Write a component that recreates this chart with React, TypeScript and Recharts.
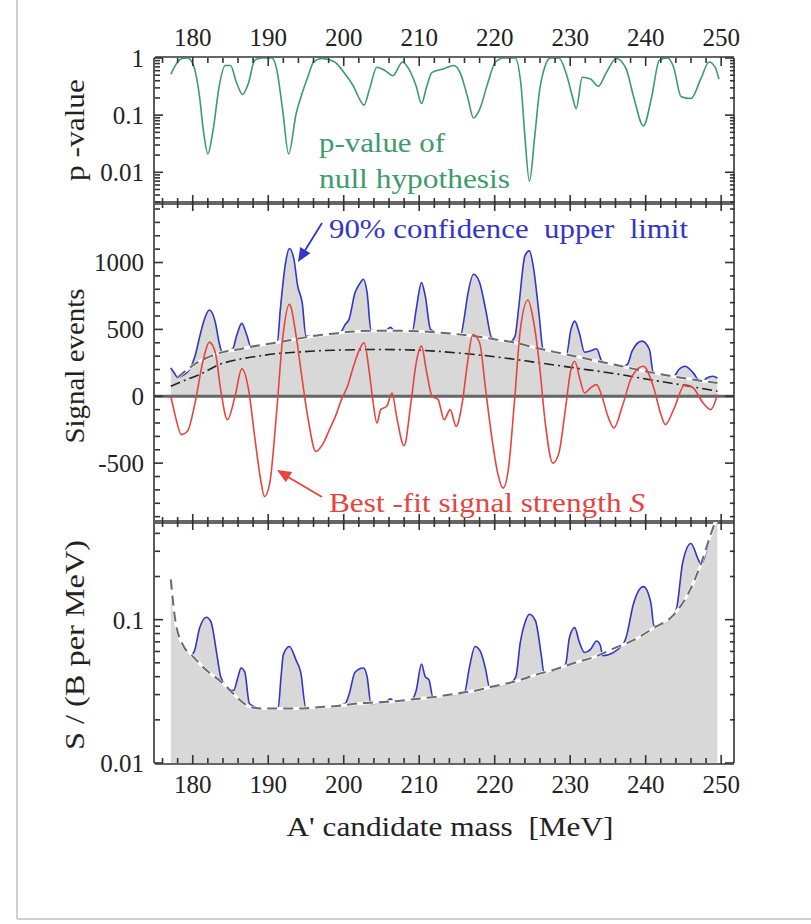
import React from 'react';
import { ComposedChart, Line, Area, XAxis, YAxis, ReferenceLine } from 'recharts';

const FONT = '"Liberation Serif", "Times New Roman", Times, serif';

// ---------- axis ticks ----------
const massMajorTicks = [180, 190, 200, 210, 220, 230, 240, 250];
const massMinorTicks = [176, 178, 182, 184, 186, 188, 192, 194, 196, 198, 202, 204, 206, 208, 212, 214, 216, 218, 222, 224, 226, 228, 232, 234, 236, 238, 242, 244, 246, 248];
const massDomain = [175, 251.7];

const pMajorTicks = [0.01, 0.1, 1];
const pMinorTicks = [0.003, 0.004, 0.005, 0.006, 0.007, 0.008, 0.009, 0.02, 0.03, 0.04, 0.05, 0.06, 0.07, 0.08, 0.09, 0.2, 0.3, 0.4, 0.5, 0.6, 0.7, 0.8, 0.9];
const pDomain = [0.0029, 1];

const sigMajorTicks = [-500, 0, 500, 1000];
const sigMinorTicks = [-900, -800, -700, -600, -400, -300, -200, -100, 100, 200, 300, 400, 600, 700, 800, 900, 1100, 1200, 1300, 1400];
const sigDomain = [-940, 1445];

const ratioMajorTicks = [0.01, 0.1];
const ratioMinorTicks = [0.02, 0.03, 0.04, 0.05, 0.06, 0.07, 0.08, 0.09, 0.2, 0.3, 0.4];
const ratioDomain = [0.01, 0.48];

// ---------- top panel: p-value of null hypothesis ----------
const pValueMass = [177.1, 178.0, 178.6, 179.3, 180.1, 180.9, 181.4, 182.0, 182.7, 183.5, 184.3, 185.0, 185.8, 186.6, 187.4, 188.2, 189.2, 190.5, 191.1, 191.9, 192.7, 193.7, 194.5, 195.3, 196.0, 197.1, 198.7, 200.2, 201.3, 202.1, 202.7, 203.4, 204.4, 205.5, 206.5, 207.8, 208.6, 209.6, 210.3, 211.0, 211.7, 213.3, 214.6, 215.4, 216.4, 217.2, 218.0, 219.1, 220.1, 221.2, 222.7, 223.5, 224.0, 224.6, 225.3, 225.9, 226.7, 227.4, 228.5, 229.5, 230.3, 230.8, 231.6, 232.7, 233.7, 234.8, 236.1, 237.4, 238.4, 239.7, 240.8, 241.8, 242.9, 243.7, 244.7, 246.0, 247.3, 248.4, 249.2, 249.7];
const pValues = [0.52, 0.85, 0.98, 1.0, 0.74, 0.21, 0.055, 0.021, 0.055, 0.32, 0.74, 0.74, 0.37, 0.23, 0.37, 0.91, 1.0, 1.0, 0.65, 0.126, 0.021, 0.107, 0.245, 0.49, 0.85, 0.98, 0.87, 0.52, 0.32, 0.19, 0.15, 0.28, 0.69, 0.6, 0.49, 0.85, 0.65, 0.32, 0.16, 0.32, 0.56, 0.65, 0.74, 0.56, 0.21, 0.089, 0.126, 0.37, 0.85, 1.0, 1.0, 0.32, 0.042, 0.007, 0.042, 0.245, 0.74, 1.0, 1.0, 0.52, 0.21, 0.13, 0.46, 0.43, 0.32, 0.56, 0.98, 0.65, 0.21, 0.065, 0.21, 0.91, 1.0, 0.69, 0.21, 0.195, 0.43, 0.85, 0.69, 0.43];

// ---------- middle panel: signal events ----------
const upperLimitMass = [177.1, 177.6, 178.0, 178.8, 179.5, 180.3, 180.9, 181.4, 182.2, 183.0, 183.5, 183.9, 184.6, 185.3, 185.8, 186.5, 187.2, 187.7, 188.7, 190.0, 191.2, 191.6, 192.3, 192.8, 193.4, 193.9, 194.5, 195.0, 196.5, 198.0, 199.5, 200.2, 200.7, 201.5, 202.1, 202.6, 203.1, 203.6, 204.4, 205.5, 206.2, 206.7, 208.0, 209.1, 209.6, 210.3, 210.8, 211.5, 212.3, 214.0, 215.5, 216.0, 216.4, 217.2, 218.0, 218.8, 219.6, 220.5, 222.0, 222.7, 223.2, 224.0, 224.6, 225.1, 225.9, 226.4, 227.0, 228.5, 229.5, 230.1, 230.6, 231.2, 231.9, 232.7, 233.5, 234.2, 235.5, 237.0, 237.6, 238.2, 239.5, 240.5, 241.0, 242.5, 243.7, 244.4, 245.2, 246.3, 247.1, 247.6, 248.1, 248.9, 249.5];
const upperLimit = [212, 170, 140, 160, 195, 300, 440, 550, 645, 550, 400, 330, 340, 355, 450, 545, 450, 370, 380, 390, 400, 650, 1000, 1105, 1025, 825, 700, 450, 455, 465, 473, 537, 575, 775, 840, 875, 775, 500, 490, 490, 515, 490, 490, 488, 650, 850, 750, 500, 478, 470, 462, 600, 750, 912, 850, 650, 437, 420, 407, 450, 675, 1050, 1087, 975, 600, 355, 345, 325, 312, 500, 562, 475, 330, 340, 355, 262, 240, 222, 240, 337, 412, 350, 180, 160, 148, 200, 225, 175, 118, 115, 137, 150, 137];

const expectedMass = [178.0, 180.0, 182.4, 184.0, 186.0, 188.7, 191.0, 193.9, 196.5, 199.2, 201.5, 204.4, 207.0, 209.6, 212.3, 214.9, 217.5, 220.1, 222.7, 225.3, 228.0, 230.6, 233.2, 235.8, 238.4, 241.0, 243.7, 246.3, 248.0, 249.5];
const expectedLimit = [140, 230, 300, 330, 350, 380, 400, 430, 455, 472, 485, 490, 490, 487, 478, 465, 448, 425, 400, 365, 330, 300, 268, 237, 205, 175, 148, 125, 110, 100];

const medianMass = [177.1, 179.0, 180.9, 183.5, 186.0, 188.7, 191.0, 193.9, 196.5, 199.2, 204.4, 209.6, 214.9, 220.1, 225.3, 230.6, 235.8, 241.0, 246.3, 249.5];
const medianLimit = [75, 120, 162, 237, 275, 300, 318, 330, 340, 345, 350, 345, 325, 295, 255, 212, 170, 120, 70, 37];

const bestFitMass = [177.1, 177.7, 178.5, 179.3, 180.3, 181.4, 182.2, 183.0, 183.7, 184.6, 185.6, 186.5, 187.4, 188.2, 189.0, 189.5, 190.2, 191.1, 191.9, 192.8, 193.7, 194.5, 195.3, 196.3, 197.3, 198.1, 198.9, 199.7, 200.5, 201.3, 202.1, 202.7, 203.4, 203.9, 204.4, 204.9, 205.7, 206.4, 207.0, 208.0, 208.9, 209.6, 210.3, 211.0, 211.7, 212.5, 213.3, 214.1, 214.9, 215.7, 216.4, 217.1, 218.0, 218.8, 219.6, 220.4, 221.1, 221.8, 222.6, 223.4, 224.4, 225.1, 225.9, 226.7, 227.7, 228.5, 229.3, 230.1, 230.6, 231.3, 231.9, 232.7, 233.5, 234.2, 235.0, 235.8, 236.9, 238.2, 239.7, 241.0, 242.1, 242.6, 243.7, 245.2, 246.3, 247.6, 248.6, 249.5];
const bestFit = [0, -150, -287, -262, -50, 275, 405, 325, 50, -175, 0, 205, 50, -300, -625, -750, -650, -125, 425, 687, 450, 125, -175, -412, -350, -250, -150, -25, 75, 225, 350, 400, 175, -50, -200, -100, -75, 25, -150, -370, -50, 250, 375, 175, 0, -25, -175, -100, -225, -50, 250, 462, 400, 50, -300, -575, -687, -550, -50, 500, 720, 575, 250, -200, -500, -425, -125, 200, 262, 125, 25, 62, 87, 0, -150, -237, -75, 150, 225, 75, -150, -212, -100, 87, 62, -50, -100, 12];

// ---------- bottom panel: S / (B per MeV) ----------
const ratioMass = [177.1, 177.7, 178.8, 179.8, 180.2, 180.9, 181.8, 182.4, 183.2, 183.7, 184.5, 185.4, 186.0, 186.4, 186.9, 187.5, 189.0, 191.3, 191.7, 192.0, 192.8, 193.7, 194.3, 195.0, 197.0, 199.2, 200.2, 200.7, 201.5, 202.6, 203.1, 203.6, 205.5, 206.2, 206.6, 209.0, 209.6, 210.3, 210.8, 211.3, 211.8, 214.5, 216.0, 216.6, 217.4, 218.1, 218.8, 219.3, 222.0, 222.8, 223.4, 224.0, 224.6, 225.4, 226.2, 226.5, 229.0, 229.4, 229.9, 230.6, 231.2, 231.9, 232.7, 233.5, 234.0, 234.3, 237.0, 237.4, 238.4, 239.7, 240.7, 241.1, 243.7, 244.1, 244.9, 246.0, 247.0, 247.3, 248.6, 249.2, 249.5];
const ratioLimit = [0.19, 0.098, 0.065, 0.057, 0.06, 0.087, 0.104, 0.097, 0.057, 0.04, 0.034, 0.032, 0.04, 0.046, 0.043, 0.026, 0.024, 0.024, 0.04, 0.057, 0.065, 0.052, 0.043, 0.024, 0.0245, 0.025, 0.026, 0.03, 0.043, 0.046, 0.04, 0.026, 0.0265, 0.028, 0.027, 0.0275, 0.032, 0.049, 0.04, 0.038, 0.029, 0.03, 0.031, 0.045, 0.065, 0.06, 0.045, 0.034, 0.036, 0.04, 0.07, 0.095, 0.109, 0.098, 0.055, 0.043, 0.047, 0.049, 0.075, 0.088, 0.07, 0.059, 0.062, 0.071, 0.066, 0.056, 0.067, 0.075, 0.13, 0.17, 0.13, 0.09, 0.108, 0.12, 0.25, 0.34, 0.26, 0.245, 0.39, 0.5, 0.6];

const ratioExpMass = [177.1, 177.7, 178.8, 179.8, 181.9, 184.0, 186.1, 187.7, 189.5, 191.3, 194.0, 196.6, 199.2, 201.8, 204.4, 207.0, 209.6, 212.3, 214.9, 217.5, 220.1, 222.7, 225.3, 228.0, 230.6, 233.2, 235.8, 238.4, 241.0, 243.7, 245.8, 247.3, 248.6, 249.2];
const ratioExpected = [0.19, 0.098, 0.065, 0.057, 0.044, 0.036, 0.028, 0.0245, 0.024, 0.024, 0.024, 0.0245, 0.025, 0.026, 0.0265, 0.027, 0.028, 0.029, 0.0305, 0.032, 0.0345, 0.037, 0.041, 0.045, 0.05, 0.055, 0.063, 0.072, 0.087, 0.108, 0.158, 0.243, 0.39, 0.48];

const pair = (xs: number[], ys: number[]) => xs.map((m, i) => ({ m, v: ys[i] }));

const pData = pair(pValueMass, pValues);
const ulData = pair(upperLimitMass, upperLimit);
const expData = pair(expectedMass, expectedLimit);
const medData = pair(medianMass, medianLimit);
const fitData = pair(bestFitMass, bestFit);
const ratioData = pair(ratioMass, ratioLimit);
const ratioExpData = pair(ratioExpMass, ratioExpected);

// ---------- styles ----------
const W = 811;
const H = 924;
const LEFT = 155;
const RIGHT = 734;
const FRAME = '#333';
const tickText = { fontFamily: FONT, fontSize: 25, fill: '#222' };

const frameAxes = (opts: {
  yScale: 'log' | 'linear';
  yDomain: number[];
  yMajor: number[];
  yMinor: number[];
  topLabels: boolean;
  bottomLabels: boolean;
}) => {
  const common = { type: 'number' as const, dataKey: 'm', domain: massDomain, allowDataOverflow: true, interval: 0 as const };
  const yCommon = { type: 'number' as const, scale: opts.yScale, domain: opts.yDomain, allowDataOverflow: true, interval: 0 as const };
  const line = { stroke: FRAME, strokeWidth: 1.6 };
  const noTick = () => <g />;
  return [
    <XAxis key="xb" xAxisId="main" orientation="bottom" {...common} ticks={massMajorTicks} height={1}
      tickSize={-9} tickMargin={20} axisLine={line} tickLine={line}
      tick={opts.bottomLabels ? tickText : noTick} />,
    <XAxis key="xbm" xAxisId="bm" orientation="bottom" {...common} ticks={massMinorTicks} height={1}
      tickSize={-5} axisLine={false} tickLine={line} tick={noTick} />,
    <XAxis key="xt" xAxisId="top" orientation="top" {...common} ticks={massMajorTicks} height={1}
      tickSize={-9} tickMargin={20} axisLine={line} tickLine={line}
      tick={opts.topLabels ? tickText : noTick} />,
    <XAxis key="xtm" xAxisId="tm" orientation="top" {...common} ticks={massMinorTicks} height={1}
      tickSize={-5} axisLine={false} tickLine={line} tick={noTick} />,
    <YAxis key="yl" yAxisId="main" orientation="left" {...yCommon} ticks={opts.yMajor} width={1}
      tickSize={-9} tickMargin={19} axisLine={line} tickLine={line} tick={tickText}
      tickFormatter={(v: number) => String(v)} />,
    <YAxis key="ylm" yAxisId="lm" orientation="left" {...yCommon} ticks={opts.yMinor} width={1}
      tickSize={-5} axisLine={false} tickLine={line} tick={noTick} />,
    <YAxis key="yr" yAxisId="right" orientation="right" {...yCommon} ticks={opts.yMajor} width={1}
      tickSize={-9} axisLine={line} tickLine={line} tick={noTick} />,
    <YAxis key="yrm" yAxisId="rm" orientation="right" {...yCommon} ticks={opts.yMinor} width={1}
      tickSize={-5} axisLine={false} tickLine={line} tick={noTick} />,
  ];
};

const margins = (top: number, bottom: number) => ({
  top: top - 2,
  bottom: H - bottom - 2,
  left: LEFT - 2,
  right: W - RIGHT - 2,
});

const layer: React.CSSProperties = { position: 'absolute', left: 0, top: 0 };

const GREEN = '#3d9b6c';
const BLUE = '#3236c6';
const RED = '#e5443f';
const FILL = '#d8d8d8';

export default function App() {
  return (
    <div style={{ position: 'absolute', left: 0, top: 0, width: W, height: H, background: '#fff', fontFamily: FONT }}>
      {/* top panel */}
      <div style={layer}>
        <ComposedChart width={W} height={H} margin={margins(58, 203)}>
          {frameAxes({ yScale: 'log', yDomain: pDomain, yMajor: pMajorTicks, yMinor: pMinorTicks, topLabels: true, bottomLabels: false })}
          <Line xAxisId="main" yAxisId="main" data={pData} dataKey="v" type="monotone" stroke={GREEN} strokeWidth={1.6} dot={false} isAnimationActive={false} />
        </ComposedChart>
      </div>
      {/* middle panel */}
      <div style={layer}>
        <ComposedChart width={W} height={H} margin={margins(203, 522)}>
          {frameAxes({ yScale: 'linear', yDomain: sigDomain, yMajor: sigMajorTicks, yMinor: sigMinorTicks, topLabels: false, bottomLabels: false })}
          <Area xAxisId="main" yAxisId="main" data={ulData} dataKey="v" type="monotone" baseValue={0} fill={FILL} fillOpacity={1} stroke={BLUE} strokeWidth={1.6} isAnimationActive={false} />
          <Line xAxisId="main" yAxisId="main" data={expData} dataKey="v" type="monotone" stroke="#ffffff" strokeWidth={3} dot={false} isAnimationActive={false} />
          <Line xAxisId="main" yAxisId="main" data={expData} dataKey="v" type="monotone" stroke="#6a6a6a" strokeWidth={2} strokeDasharray="10 6" dot={false} isAnimationActive={false} />
          <Line xAxisId="main" yAxisId="main" data={medData} dataKey="v" type="monotone" stroke="#222" strokeWidth={1.6} strokeDasharray="10 4 2 4" dot={false} isAnimationActive={false} />
          <ReferenceLine xAxisId="main" yAxisId="main" y={0} stroke="#666" strokeWidth={3} />
          <Line xAxisId="main" yAxisId="main" data={fitData} dataKey="v" type="monotone" stroke={RED} strokeWidth={1.6} dot={false} isAnimationActive={false} />
        </ComposedChart>
      </div>
      {/* bottom panel */}
      <div style={layer}>
        <ComposedChart width={W} height={H} margin={margins(522, 763)}>
          {frameAxes({ yScale: 'log', yDomain: ratioDomain, yMajor: ratioMajorTicks, yMinor: ratioMinorTicks, topLabels: false, bottomLabels: true })}
          <Area xAxisId="main" yAxisId="main" data={ratioData} dataKey="v" type="monotone" baseValue={0.01} fill={FILL} fillOpacity={1} stroke={BLUE} strokeWidth={1.6} isAnimationActive={false} />
          <Line xAxisId="main" yAxisId="main" data={ratioExpData} dataKey="v" type="monotone" stroke="#ffffff" strokeWidth={3} dot={false} isAnimationActive={false} />
          <Line xAxisId="main" yAxisId="main" data={ratioExpData} dataKey="v" type="monotone" stroke="#6a6a6a" strokeWidth={2} strokeDasharray="10 6" dot={false} isAnimationActive={false} />
        </ComposedChart>
      </div>
      {/* titles and annotations */}
      <svg width={W} height={H} style={{ ...layer, pointerEvents: 'none' }}>
        <line x1={17} y1={0} x2={17} y2={919} stroke="#d0d0d0" strokeWidth={2} />
        <line x1={17} y1={919} x2={W} y2={919} stroke="#d0d0d0" strokeWidth={2} />
        <g fontFamily={FONT} fill="#222" fontSize={28} textAnchor="middle">
          <text transform="translate(84,130) rotate(-90)" style={{ whiteSpace: 'pre' }} textLength={102} lengthAdjust="spacingAndGlyphs">p -value</text>
          <text transform="translate(84,366) rotate(-90)" textLength={155} lengthAdjust="spacingAndGlyphs">Signal events</text>
          <text transform="translate(84,645) rotate(-90)" textLength={210} lengthAdjust="spacingAndGlyphs">S / (B per MeV)</text>
          <text x={450} y={836} style={{ whiteSpace: 'pre' }} textLength={327} lengthAdjust="spacingAndGlyphs">A' candidate mass  [MeV]</text>
        </g>
        <g fontFamily={FONT} fontSize={28}>
          <text x={319} y={152} fill={GREEN} textLength={126} lengthAdjust="spacingAndGlyphs">p-value of</text>
          <text x={319} y={188} fill={GREEN} textLength={191} lengthAdjust="spacingAndGlyphs">null hypothesis</text>
          <text x={329} y={238} fill={BLUE} textLength={359} lengthAdjust="spacingAndGlyphs" style={{ whiteSpace: 'pre' }}>90% confidence  upper  limit</text>
          <text x={329} y={512} fill={RED} textLength={316} lengthAdjust="spacingAndGlyphs">Best -fit signal strength <tspan fontStyle="italic">S</tspan></text>
        </g>
        <line x1={322} y1={223} x2={304} y2={252} stroke={BLUE} strokeWidth={1.8} />
        <polygon points="298,262 310.4,253.2 300.2,247.0" fill={BLUE} />
        <line x1={322} y1={497} x2={288} y2={477} stroke={RED} strokeWidth={1.8} />
        <polygon points="277,470 292.1,472.1 285.9,482.3" fill={RED} />
      </svg>
    </div>
  );
}
